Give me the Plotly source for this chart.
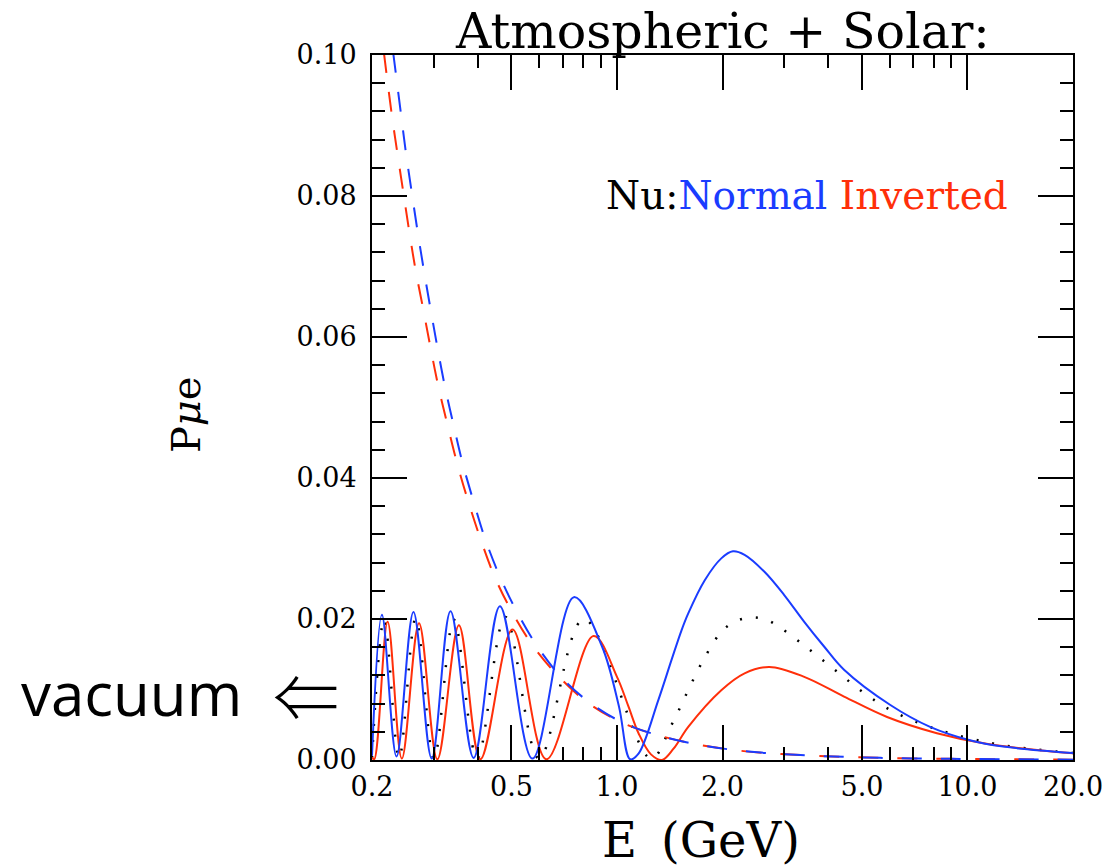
import math
import plotly.graph_objects as go

BLUE = "#1a3cff"
RED = "#ff2f0a"
BLACK = "#000000"

# ---- Normal hierarchy, full matter effect (blue solid) ----
E_normal = [0.200, 0.2135, 0.235, 0.2626, 0.296, 0.335, 0.390, 0.4635, 0.5737,
            0.7534, 0.9065, 1.013, 1.0905, 1.152, 1.312, 1.431, 1.528, 1.597,
            1.780, 1.984, 2.142, 2.312, 2.635, 3.0, 3.422, 3.898, 4.444,
            6.024, 7.82, 10.16, 12.64, 20.0]
P_normal = [0.0006, 0.0206, 0.0005, 0.0210, 0.0002, 0.0211, 0.0003, 0.0218, 0.0002,
            0.0231, 0.0161, 0.0076, 0.0001, 0.0009, 0.0085, 0.0142, 0.0184, 0.0208,
            0.0255, 0.0286, 0.0296, 0.0291, 0.0267, 0.0234, 0.0196, 0.0161, 0.0128,
            0.0078, 0.0047, 0.0028, 0.0019, 0.0010]

# ---- Inverted hierarchy (red solid) ----
E_inverted = [0.200, 0.203, 0.2216, 0.2433, 0.2724, 0.3073, 0.354, 0.4077, 0.5034,
              0.6289, 0.8575, 1.0, 1.078, 1.152, 1.25, 1.345, 1.45, 1.597, 1.984,
              2.312, 2.722, 3.422, 4.444, 5.896, 8.18, 11.33, 20.0]
P_inverted = [0.0004, 0.0001, 0.0196, 0.0002, 0.0194, 0.0001, 0.0191, 0.0001, 0.0185,
              0.0001, 0.0176, 0.0118, 0.0076, 0.0038, 0.0008, 0.0000, 0.0016, 0.0047,
              0.0099, 0.0123, 0.0132, 0.0118, 0.0090, 0.0061, 0.0038, 0.0023, 0.00095]

# ---- Vacuum oscillation (black dotted) ----
E_vacuum = [0.200, 0.2167, 0.239, 0.2665, 0.3005, 0.3425, 0.399, 0.480, 0.5996,
            0.804, 1.25, 1.431, 1.579, 1.742, 1.964, 2.142, 2.390, 2.662, 2.938,
            3.512, 4.205, 5.008, 6.024, 7.41, 9.21, 12.6, 20.0]
P_vacuum = [0.0003, 0.0200, 0.0003, 0.0201, 0.0002, 0.0199, 0.0002, 0.0203, 0.0002,
            0.0200, 0.0002, 0.0050, 0.0094, 0.0137, 0.0179, 0.0195, 0.0202, 0.0199,
            0.0187, 0.0158, 0.0127, 0.0097, 0.0071, 0.0051, 0.0036, 0.0021, 0.0010]

# ---- Solar term only (dashed), inverted and normal ----
E_solar_inv = [0.2163, 0.2274, 0.2359, 0.2454, 0.2552, 0.2661, 0.2796, 0.2935,
               0.3092, 0.3286, 0.3502, 0.3768, 0.4077, 0.4467, 0.4981, 0.5737,
               0.6831, 0.8269, 1.0443, 1.356, 1.742, 2.262, 2.938, 3.774, 4.9,
               6.36, 8.26, 10.6, 20.0]
P_solar_inv = [0.1003, 0.0918, 0.0863, 0.0807, 0.0751, 0.0696, 0.0641, 0.0586,
               0.0530, 0.0475, 0.0420, 0.0366, 0.0314, 0.0261, 0.0213, 0.0163,
               0.0118, 0.0081, 0.0052, 0.0033, 0.0021, 0.0013, 0.00085, 0.00057,
               0.00038, 0.00026, 0.00018, 0.00014, 0.00005]

E_solar_nor = [0.2299, 0.2417, 0.2497, 0.2593, 0.2696, 0.2809, 0.2935, 0.3072,
               0.3228, 0.3418, 0.3631, 0.3901, 0.4203, 0.4635, 0.5147, 0.5927,
               0.6979, 0.8489, 1.060, 1.356, 1.742, 2.262, 2.938, 3.774, 4.9,
               6.36, 8.26, 10.6, 20.0]
P_solar_nor = [0.1003, 0.0918, 0.0863, 0.0807, 0.0751, 0.0696, 0.0641, 0.0586,
               0.0530, 0.0475, 0.0420, 0.0366, 0.0314, 0.0260, 0.0213, 0.0161,
               0.0116, 0.0079, 0.0051, 0.0033, 0.0021, 0.0013, 0.00085, 0.00057,
               0.00038, 0.00026, 0.00018, 0.00014, 0.00005]

# ---- Axis ticks ----
x_major = [0.2, 0.5, 1.0, 2.0, 5.0, 10.0, 20.0]
x_major_text = ["0.2", "0.5", "1.0", "2.0", "5.0", "10.0", "20.0"]
x_minor = [0.3, 0.4, 0.6, 0.7, 0.8, 0.9, 3, 4, 6, 7, 8, 9]
y_major = [0.0, 0.02, 0.04, 0.06, 0.08, 0.10]
y_major_text = ["0.00", "0.02", "0.04", "0.06", "0.08", "0.10"]
y_minor = [0.004, 0.008, 0.012, 0.016, 0.024, 0.028, 0.032, 0.036, 0.044, 0.048,
           0.052, 0.056, 0.064, 0.068, 0.072, 0.076, 0.084, 0.088, 0.092, 0.096]

SERIF = "DejaVu Serif"

fig = go.Figure()

fig.add_trace(go.Scatter(x=E_vacuum, y=P_vacuum, mode="lines",
                         line=dict(color=BLACK, width=2.5, dash="2px,14px", shape="spline")))
fig.add_trace(go.Scatter(x=E_inverted, y=P_inverted, mode="lines",
                         line=dict(color=RED, width=2, shape="spline")))
fig.add_trace(go.Scatter(x=E_normal, y=P_normal, mode="lines",
                         line=dict(color=BLUE, width=2, shape="spline")))
fig.add_trace(go.Scatter(x=E_solar_inv, y=P_solar_inv, mode="lines",
                         line=dict(color=RED, width=2, dash="20px,19px", shape="spline")))
fig.add_trace(go.Scatter(x=E_solar_nor, y=P_solar_nor, mode="lines",
                         line=dict(color=BLUE, width=2, dash="20px,19px", shape="spline")))

axis_common = dict(
    ticks="inside", ticklen=35, tickwidth=2, tickcolor=BLACK,
    showline=True, linewidth=2, linecolor=BLACK, mirror="allticks",
    showgrid=False, zeroline=False,
    tickfont=dict(family=SERIF, size=27, color=BLACK),
)

fig.update_xaxes(
    type="log", range=[math.log10(0.2), math.log10(20.0)],
    tickmode="array", tickvals=x_major, ticktext=x_major_text,
    minor=dict(tickmode="array", tickvals=x_minor, ticks="inside", ticklen=13,
               tickwidth=2, tickcolor=BLACK, showgrid=False),
    ticklabelstandoff=2,
    **axis_common,
)
fig.update_yaxes(
    range=[0, 0.1],
    tickmode="array", tickvals=y_major, ticktext=y_major_text,
    minor=dict(tickmode="array", tickvals=y_minor, ticks="inside", ticklen=13,
               tickwidth=2, tickcolor=BLACK, showgrid=False),
    ticklabelstandoff=8,
    **axis_common,
)

annotations = [
    dict(text="Atmospheric + Solar:", x=0.5, y=1.033, xref="paper", yref="paper",
         xanchor="center", yanchor="middle", showarrow=False,
         font=dict(family=SERIF, size=49, color=BLACK)),
    dict(text=f"Nu:<span style='color:{BLUE}'>Normal</span> "
              f"<span style='color:{RED}'>Inverted</span>",
         x=0.62, y=0.80, xref="paper", yref="paper",
         xanchor="center", yanchor="middle", showarrow=False,
         font=dict(family=SERIF, size=39, color=BLACK)),
    dict(text="E\u2002(GeV)", x=0.47, y=-0.113, xref="paper", yref="paper",
         xanchor="center", yanchor="middle", showarrow=False,
         font=dict(family=SERIF, size=48, color=BLACK)),
    dict(text="P<i>μ</i>e", x=-0.266, y=0.49, xref="paper", yref="paper",
         xanchor="center", yanchor="middle", showarrow=False, textangle=-90,
         font=dict(family=SERIF, size=40, color=BLACK)),
    dict(text="vacuum", x=-0.183, y=0.095, xref="paper", yref="paper",
         xanchor="right", yanchor="middle", showarrow=False,
         font=dict(family="Open Sans", size=60, color=BLACK)),
    dict(text="⇐", x=-0.094, y=0.095, xref="paper", yref="paper",
         xanchor="center", yanchor="middle", showarrow=False,
         font=dict(family="Noto Sans CJK JP", size=66, color=BLACK, weight=300)),
]

fig.update_layout(
    width=1115, height=868,
    margin=dict(l=372, r=38, t=55, b=108),
    paper_bgcolor="white", plot_bgcolor="white",
    showlegend=False,
    annotations=annotations,
)

fig.write_html("out.html")
